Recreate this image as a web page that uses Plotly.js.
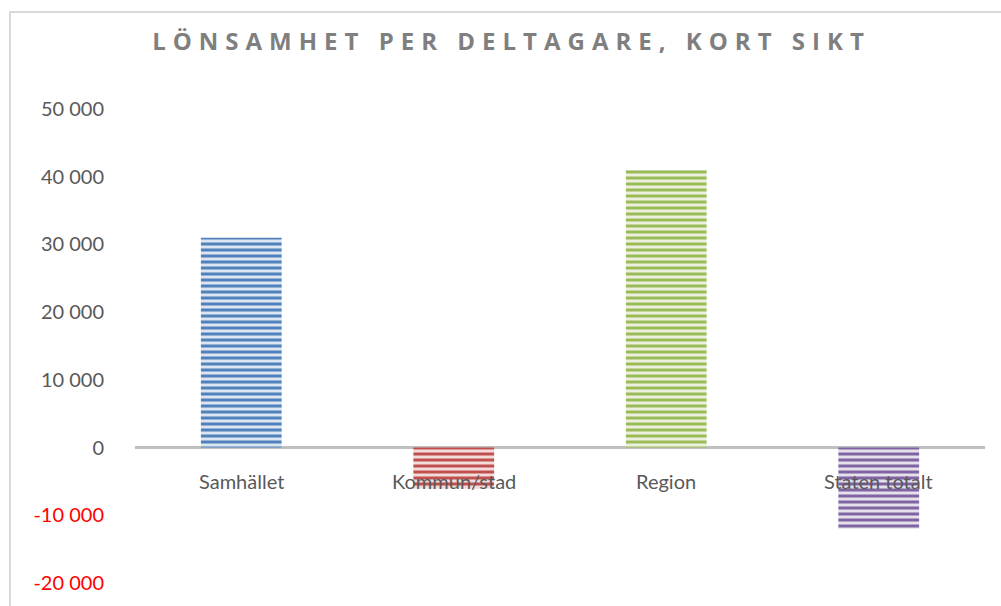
<!DOCTYPE html>
<html>
<head>
<meta charset="utf-8">
<script src="https://cdn.plot.ly/plotly-3.0.1.min.js"></script>
<style>
  html, body { margin: 0; padding: 0; background: #ffffff; }
  #frame { position: absolute; left: 9px; top: 11px; width: 1000px; height: 600px; border-left: 2px solid #d9d9d9; border-top: 2px solid #d9d9d9; box-sizing: border-box; pointer-events: none; }
  #chart { position: absolute; left: 0; top: 0; width: 1001px; height: 606px; }
  .gtitle { letter-spacing: 7px; }
</style>
</head>
<body>
<div id="chart"></div>
<div id="frame"></div>
<script>
const titleText = 'LÖNSAMHET PER DELTAGARE, KORT SIKT';
const categories = ['Samhället', 'Kommun/stad', 'Region', 'Staten totalt'];
const values = [31000, -6000, 41000, -12000];
const barColors = ['#4F81BD', '#C0504D', '#9BBB59', '#8064A2'];
const barBgColors = ['#dce6f2', '#f2dcdb', '#ebf1de', '#e5e0ec'];
const tickValues = [-20000, -10000, 0, 10000, 20000, 30000, 40000, 50000];
const tickLabels = ['-20 000', '-10 000', '0', '10 000', '20 000', '30 000', '40 000', '50 000'];

const tickText = tickValues.map((v, i) => v < 0 ? '<span style="color:#ff0000">' + tickLabels[i] + '</span>' : tickLabels[i]);

const traces = categories.map((c, i) => ({
  type: 'bar',
  x: [c],
  y: [values[i]],
  name: c,
  marker: {
    color: barBgColors[i],
    line: { width: 0 },
    pattern: { shape: '-', fgcolor: barColors[i], size: 6, solidity: 0.5, fillmode: 'overlay', fgopacity: 1 }
  },
  hoverinfo: 'x+y'
}));

const annotations = categories.map(c => ({
  x: c, y: 0, xref: 'x', yref: 'y',
  text: c, showarrow: false, yanchor: 'top', yshift: -19,
  font: { family: 'Lato, "Open Sans", sans-serif', size: 20, color: '#595959' }
}));

const layout = {
  width: 1001, height: 606,
  margin: { l: 135, r: 16, t: 109, b: 23 },
  paper_bgcolor: 'rgba(0,0,0,0)',
  plot_bgcolor: 'rgba(0,0,0,0)',
  title: {
    text: titleText,
    x: 0.511, xref: 'container', xanchor: 'center',
    y: 0.932, yref: 'container', yanchor: 'middle',
    font: { family: '"Open Sans", Lato, sans-serif', size: 24, color: '#7f7f7f', weight: 700 }
  },
  showlegend: false,
  barmode: 'overlay',
  bargap: 0.62,
  xaxis: {
    range: [-0.5, 3.5],
    categoryorder: 'array', categoryarray: categories,
    showticklabels: false, showgrid: false, zeroline: false, showline: false, ticks: ''
  },
  yaxis: {
    range: [-20000, 50000],
    tickvals: tickValues, ticktext: tickText,
    showgrid: false, showline: false, ticks: '',
    zeroline: true, zerolinecolor: '#bfbfbf', zerolinewidth: 3,
    ticklabelstandoff: 30,
    tickfont: { family: 'Lato, "Open Sans", sans-serif', size: 20, color: '#595959' }
  },
  annotations: annotations
};

Plotly.newPlot('chart', traces, layout, { displayModeBar: false, staticPlot: true });
</script>
</body>
</html>
